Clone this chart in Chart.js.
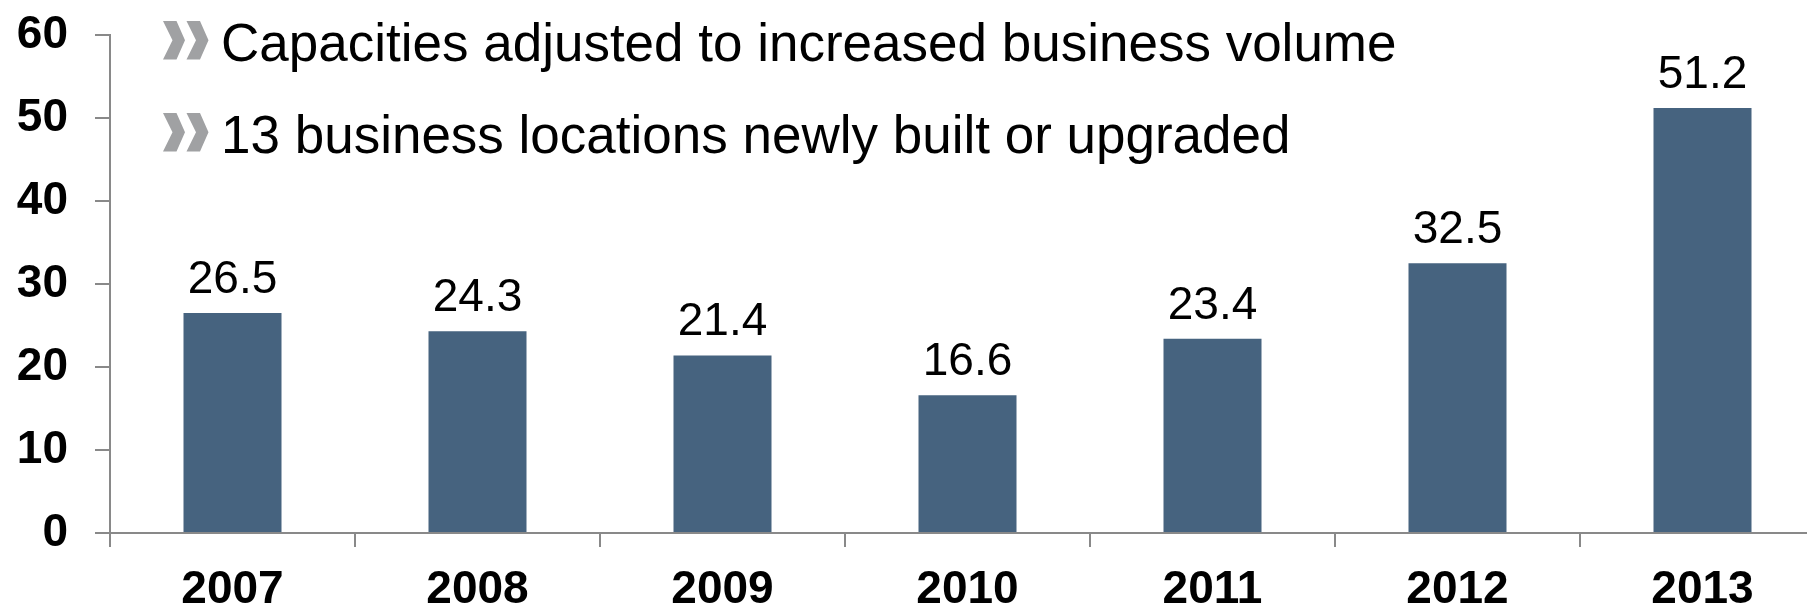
<!DOCTYPE html>
<html>
<head>
<meta charset="utf-8">
<script src="https://cdn.jsdelivr.net/npm/chart.js@4/dist/chart.umd.min.js"></script>
<style>
  html, body { margin: 0; padding: 0; overflow: hidden; background: #fff; }
  #wrap { width: 1807px; height: 609px; overflow: hidden; }
</style>
</head>
<body>
<div id="wrap"><canvas id="myChart" width="1825" height="609"></canvas></div>
<script>
const years = ['2007', '2008', '2009', '2010', '2011', '2012', '2013'];
const values = [26.5, 24.3, 21.4, 16.6, 23.4, 32.5, 51.2];
const yTicks = [0, 10, 20, 30, 40, 50, 60];
const notes = [
  'Capacities adjusted to increased business volume',
  '13 business locations newly built or upgraded'
];

const axisGrey = '#898989';

// value labels above each bar
const valueLabels = {
  id: 'valueLabels',
  afterDatasetsDraw(chart) {
    const ctx = chart.ctx;
    const meta = chart.getDatasetMeta(0);
    ctx.save();
    ctx.font = '46px "Liberation Sans", Arial, sans-serif';
    ctx.fillStyle = '#000';
    ctx.textAlign = 'center';
    ctx.textBaseline = 'alphabetic';
    meta.data.forEach((bar, i) => {
      ctx.fillText(values[i].toFixed(1), bar.x, bar.y - 20);
    });
    ctx.restore();
  }
};

// the two bullet lines with grey chevrons
const bulletNotes = {
  id: 'bulletNotes',
  afterDraw(chart) {
    const ctx = chart.ctx;
    const baselines = [61, 153];
    ctx.save();
    notes.forEach((txt, i) => {
      const base = baselines[i];
      const top = base - 40, bot = base - 1.5, mid = (top + bot) / 2;
      ctx.fillStyle = '#a0a1a3';
      [163, 186.5].forEach(x0 => {
        ctx.beginPath();
        ctx.moveTo(x0, top);
        ctx.lineTo(x0 + 13.5, top);
        ctx.lineTo(x0 + 22, mid);
        ctx.lineTo(x0 + 13.5, bot);
        ctx.lineTo(x0, bot);
        ctx.lineTo(x0 + 9.5, mid);
        ctx.closePath();
        ctx.fill();
      });
      ctx.fillStyle = '#000';
      ctx.font = '53px "Liberation Sans", Arial, sans-serif';
      ctx.textAlign = 'left';
      ctx.textBaseline = 'alphabetic';
      ctx.fillText(txt, 221, base);
    });
    ctx.restore();
  }
};

const data = {
  labels: years,
  datasets: [{
    data: values,
    backgroundColor: '#46637f',
    borderWidth: 0,
    categoryPercentage: 1,
    barPercentage: 0.4
  }]
};

const config = {
  type: 'bar',
  data: data,
  plugins: [valueLabels, bulletNotes],
  options: {
    responsive: false,
    animation: false,
    devicePixelRatio: 1,
    layout: { padding: { top: 35, left: 0, right: 0, bottom: 0 } },
    plugins: { legend: { display: false }, tooltip: { enabled: false } },
    scales: {
      x: {
        grid: { offset: true, drawOnChartArea: false, drawTicks: true, tickLength: 14, color: axisGrey, lineWidth: 2 },
        border: { color: axisGrey, width: 2 },
        ticks: {
          color: '#000',
          font: { family: '"Liberation Sans", Arial, sans-serif', size: 46, weight: 'bold' },
          padding: 16,
          maxRotation: 0,
          autoSkip: false
        },
        afterFit(scale) {
          scale.height = 76;
          scale.paddingLeft = 0;
          scale.paddingRight = 0;
        }
      },
      y: {
        min: 0,
        max: 60,
        afterBuildTicks(scale) { scale.ticks = yTicks.map(v => ({ value: v })); },
        grid: { drawOnChartArea: false, drawTicks: true, tickLength: 15, color: axisGrey, lineWidth: 2 },
        border: { color: axisGrey, width: 2 },
        ticks: {
          color: '#000',
          font: { family: '"Liberation Sans", Arial, sans-serif', size: 46, weight: 'bold' },
          padding: 27
        },
        afterFit(scale) {
          scale.width = 110;
          scale.paddingTop = 0;
          scale.paddingBottom = 0;
        }
      }
    }
  }
};

const myChart = new Chart(document.getElementById('myChart'), config);
</script>
</body>
</html>
